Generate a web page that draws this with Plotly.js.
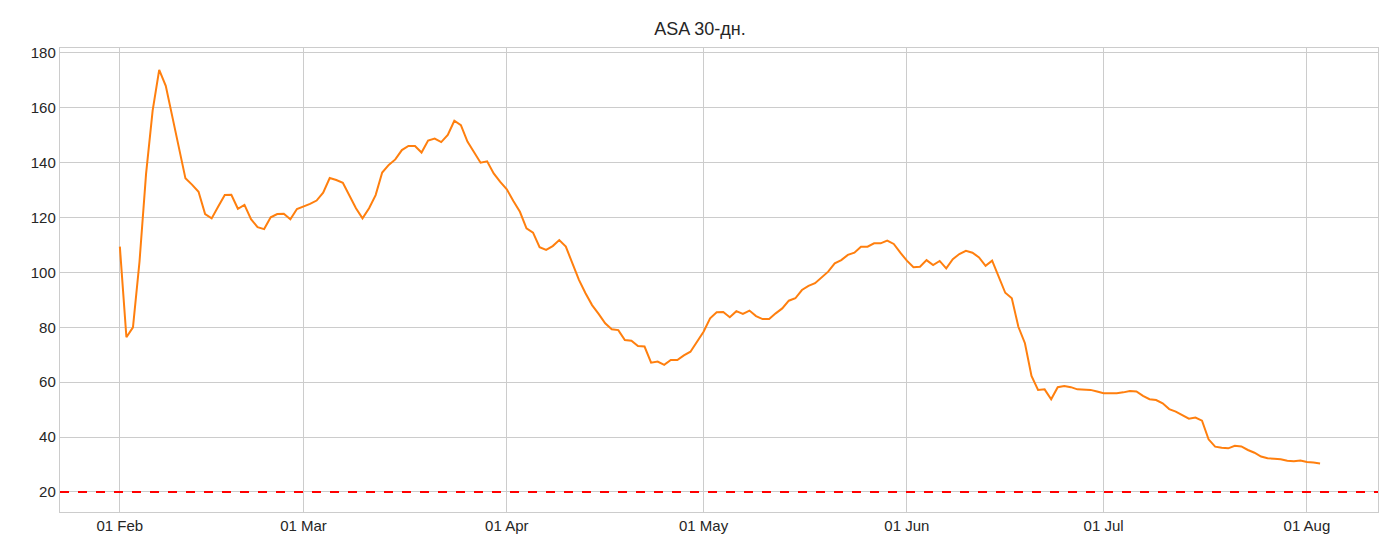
<!DOCTYPE html>
<html><head><meta charset="utf-8">
<script src="https://cdn.plot.ly/plotly-3.0.1.min.js"></script>
<style>body{margin:0;background:#fff}#c{width:1400px;height:560px}</style>
</head><body><div id="c"></div>
<script>
const startDate = "2021-02-01";
const asa30 = [109.4,76.4,80,104,136,159,173.8,168,156.8,145.8,134.3,132,129.4,121.3,119.7,124,128.2,128.3,123.2,124.6,119.4,116.5,115.8,120.1,121.3,121.4,119.4,123.1,
124,125,126.2,129.1,134.4,133.7,132.7,128.2,123.4,119.7,123.4,128.2,136.4,139.2,141.2,144.6,146.1,146.1,143.7,148.1,148.8,147.5,150.1,155.3,153.7,147.7,143.7,140,140.5,136.1,133,
130.3,126,122.1,116.1,114.5,109.2,108.2,109.6,111.8,109.4,103.3,97.3,92.4,88.1,84.9,81.5,79.3,79,75.4,75.1,73.2,73,67.1,67.5,66.3,68.1,68.1,69.8,71.1,74.8,
78.4,83.3,85.5,85.6,83.7,85.9,84.9,86.1,84.1,83,83,85.1,86.9,89.7,90.6,93.6,95.1,96.1,98.2,100.3,103.3,104.5,106.4,107.2,109.4,109.4,110.6,110.6,111.6,110.4,107.2,
104.3,101.9,102.1,104.5,102.7,104.2,101.5,104.8,106.7,107.9,107.2,105.5,102.4,104.3,98.2,92.6,90.6,80.2,74.2,62.3,57.2,57.4,53.8,58.2,58.6,58.2,57.4,57.2,57.2,56.6,
56,56,56,56.3,56.8,56.6,55,53.8,53.5,52.3,50.2,49.3,47.9,46.7,47.1,46,39.2,36.5,36.1,35.9,36.8,36.6,35.3,34.3,32.9,32.3,32.1,31.9,31.4,31.2,31.5,
30.9,30.7,30.4];
const threshold = 20;
const tickVals = ["2021-02-01","2021-03-01","2021-04-01","2021-05-01","2021-06-01","2021-07-01","2021-08-01"];
const tickText = ["01 Feb","01 Mar","01 Apr","01 May","01 Jun","01 Jul","01 Aug"];

const d0 = new Date(startDate+"T00:00:00Z");
const dates = asa30.map((_,i)=>new Date(d0.getTime()+i*86400000).toISOString().slice(0,10));

Plotly.newPlot('c',[
 {x:dates,y:asa30,type:'scatter',mode:'lines',line:{color:'#ff7f0e',width:2},hoverinfo:'skip'}
],{
 width:1400,height:560,
 margin:{l:60,r:22,t:48,b:48},
 paper_bgcolor:'#fff',plot_bgcolor:'#fff',
 showlegend:false,
 font:{family:'Liberation Sans, Arial, sans-serif',size:15,color:'#262626'},
 title:{text:'ASA 30-дн.',x:0.5,xanchor:'center',y:0.96,font:{size:18,color:'#262626'}},
 xaxis:{type:'date',range:['2021-01-22T21:00','2021-08-11T20:00'],tickvals:tickVals,ticktext:tickText,
   showgrid:true,gridcolor:'#cccccc',gridwidth:1,zeroline:false,showline:true,linecolor:'#cccccc',linewidth:1.2,mirror:true,ticks:''},
 yaxis:{range:[12.7,181.8],tickvals:[20,40,60,80,100,120,140,160,180],
   showgrid:true,gridcolor:'#cccccc',gridwidth:1,zeroline:false,showline:true,linecolor:'#cccccc',linewidth:1.2,mirror:true,ticks:''},
 shapes:[{type:'line',xref:'paper',x0:0,x1:1,yref:'y',y0:threshold,y1:threshold,line:{color:'#ff0000',width:2,dash:'dash'}}]
},{displayModeBar:false,staticPlot:true});
</script></body></html>
